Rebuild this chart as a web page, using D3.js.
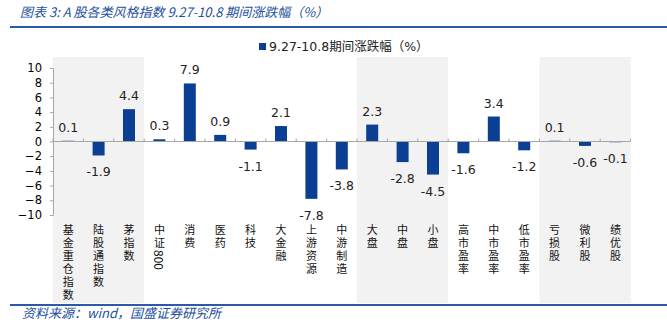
<!DOCTYPE html>
<html>
<head>
<meta charset="utf-8">
<title>A股各类风格指数涨跌幅</title>
<script src="https://cdn.jsdelivr.net/npm/d3@7/dist/d3.min.js"></script>
<style>
  body { margin: 0; background: #fff; }
</style>
</head>
<body>
<script>
// 数据
var categories = ['基金重仓指数', '陆股通指数', '茅指数', '中证800', '消费', '医药', '科技', '大金融',
  '上游资源', '中游制造', '大盘', '中盘', '小盘', '高市盈率', '中市盈率', '低市盈率', '亏损股', '微利股', '绩优股'];
var values = [0.1, -1.9, 4.4, 0.3, 7.9, 0.9, -1.1, 2.1, -7.8, -3.8, 2.3, -2.8, -4.5, -1.6, 3.4, -1.2, 0.1, -0.6, -0.1];
var yTicks = [10, 8, 6, 4, 2, 0, -2, -4, -6, -8, -10];
var shadedGroups = [[0, 2], [10, 12], [16, 18]];
var seriesName = '9.27-10.8期间涨跌幅（%）';
var titleText = '图表 3:  A 股各类风格指数 9.27-10.8 期间涨跌幅（%）';
var sourceText = '资料来源：wind，国盛证券研究所';

var W = 667, H = 326;
var svg = d3.select('body').append('svg')
  .attr('width', W)
  .attr('height', H);

var blue = '#0b3f94';
var cjk = '"Noto Sans CJK SC", sans-serif';
var num = '"DejaVu Sans", "Noto Sans CJK SC", sans-serif';

var x = d3.scaleBand().domain(d3.range(categories.length)).range([53, 630.6]).paddingInner(0).paddingOuter(0);
var y = d3.scaleLinear().domain([-10, 10]).range([215, 68]);

// 背景分组
svg.selectAll('rect.band').data(shadedGroups).enter().append('rect')
  .attr('class', 'band')
  .attr('x', function(d) { return x(d[0]); })
  .attr('width', function(d) { return x(d[1]) + x.bandwidth() - x(d[0]); })
  .attr('y', 57)
  .attr('height', 246)
  .attr('fill', '#f2f2f2');

// 标题
svg.append('text')
  .attr('x', 20).attr('y', 17)
  .attr('font-family', cjk).attr('font-size', 13).attr('font-style', 'italic')
  .attr('fill', '#24509e')
  .text(titleText);
svg.append('line').attr('x1', 10).attr('x2', W).attr('y1', 27).attr('y2', 27)
  .attr('stroke', '#2b5aa6').attr('stroke-width', 2);
svg.append('line').attr('x1', 10).attr('x2', W).attr('y1', 305).attr('y2', 305)
  .attr('stroke', '#2b5aa6').attr('stroke-width', 2);
svg.append('text')
  .attr('x', 22).attr('y', 318)
  .attr('font-family', cjk).attr('font-size', 13).attr('font-style', 'italic')
  .attr('fill', '#24509e')
  .text(sourceText);

// 图例
svg.append('rect').attr('x', 259).attr('y', 43).attr('width', 7).attr('height', 7).attr('fill', blue);
svg.append('text').attr('x', 269).attr('y', 51)
  .attr('font-family', num).attr('font-size', 12.5).attr('fill', '#222')
  .text(seriesName);

// Y轴
var yAxis = d3.axisLeft(y).tickValues(yTicks).tickSize(3).tickPadding(8);
var gy = svg.append('g').attr('transform', 'translate(53,0)').call(yAxis);
gy.select('.domain').attr('stroke', '#a6a6a6');
gy.selectAll('.tick line').attr('stroke', '#a6a6a6');
gy.selectAll('.tick text').attr('font-family', num).attr('font-size', 11.5).attr('fill', '#000');

// 柱子
var bw = 12;
svg.selectAll('rect.bar').data(values).enter().append('rect')
  .attr('class', 'bar')
  .attr('x', function(d, i) { return x(i) + x.bandwidth() / 2 - bw / 2; })
  .attr('width', bw)
  .attr('y', function(d) { return y(Math.max(0, d)); })
  .attr('height', function(d) { return Math.abs(y(d) - y(0)); })
  .attr('fill', blue);

// 零轴与刻度
svg.append('line').attr('x1', 53).attr('x2', 630.6).attr('y1', y(0)).attr('y2', y(0))
  .attr('stroke', '#a6a6a6');
svg.selectAll('line.xt').data(d3.range(categories.length + 1)).enter().append('line')
  .attr('class', 'xt')
  .attr('x1', function(i) { return i < categories.length ? x(i) : x(i - 1) + x.bandwidth(); })
  .attr('x2', function(i) { return i < categories.length ? x(i) : x(i - 1) + x.bandwidth(); })
  .attr('y1', y(0) - 3).attr('y2', y(0))
  .attr('stroke', '#a6a6a6');

// 数据标签
svg.selectAll('text.val').data(values).enter().append('text')
  .attr('class', 'val')
  .attr('x', function(d, i) { return x(i) + x.bandwidth() / 2; })
  .attr('y', function(d) { return d >= 0 ? y(d) - 9 : y(d) + 21; })
  .attr('text-anchor', 'middle')
  .attr('font-family', num).attr('font-size', 12.5).attr('fill', '#222')
  .text(function(d) { return d.toFixed(1); });

// 竖排类别标签（数字自动侧转）
svg.selectAll('text.xl').data(categories).enter().append('text')
  .attr('class', 'xl')
  .attr('x', function(d, i) { return x(i) + x.bandwidth() / 2; })
  .attr('y', 224)
  .style('writing-mode', 'vertical-rl')
  .style('text-orientation', 'mixed')
  .attr('font-family', cjk).attr('font-size', 11).attr('fill', '#111')
  .each(function(d) {
    var t = d3.select(this);
    d.split(/(\d+)/).filter(function(s) { return s; }).forEach(function(s) {
      var isNum = /^\d+$/.test(s);
      t.append('tspan')
        .style('letter-spacing', isNum ? '0px' : '2px')
        .attr('font-size', isNum ? 12 : 11)
        .text(s);
    });
  });
</script>
</body>
</html>
